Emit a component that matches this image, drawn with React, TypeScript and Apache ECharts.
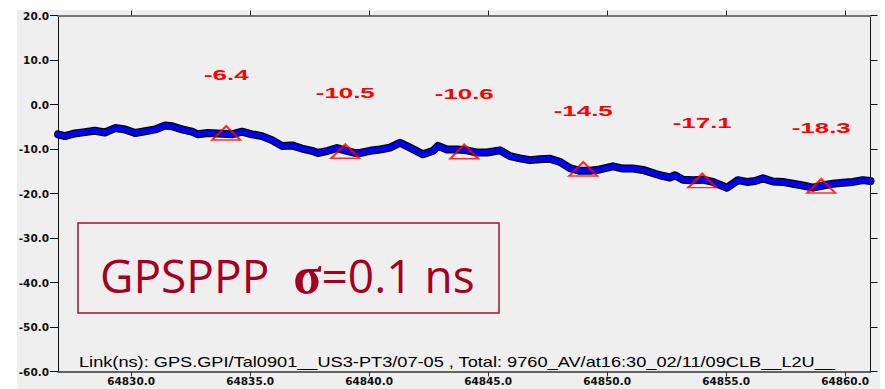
import React, { useEffect, useRef } from 'react';
import * as echarts from 'echarts';

const W = 885;
const H = 389;

// Time axis (x) and link offset values (ns)
const times = [
  64826.93, 64827.22, 64827.64, 64828.06, 64828.48, 64828.90, 64829.33, 64829.75, 64830.17, 64830.59,
  64831.01, 64831.43, 64831.72, 64832.14, 64832.56, 64832.81, 64833.23, 64833.65, 64834.24, 64834.66,
  64835.08, 64835.50, 64835.92, 64836.34, 64836.76, 64837.18, 64837.60, 64837.85, 64838.27, 64838.65,
  64838.99, 64839.41, 64839.62, 64840.04, 64840.46, 64840.88, 64841.30, 64841.72, 64842.27, 64842.69,
  64842.90, 64843.27, 64843.69, 64844.11, 64844.54, 64844.96, 64845.50, 64845.92, 64846.34, 64846.76,
  64847.18, 64847.60, 64848.02, 64848.44, 64848.86, 64849.28, 64849.70, 64850.25, 64850.67, 64851.09,
  64851.51, 64851.80, 64852.22, 64852.64, 64852.85, 64853.19, 64853.61, 64854.03, 64854.45, 64855.04,
  64855.50, 64855.88, 64856.22, 64856.55, 64856.97, 64857.39, 64857.81, 64858.23, 64858.65, 64859.07,
  64859.49, 64859.91, 64860.33, 64860.75, 64861.07,
];
const linkValues = [
  -6.7, -7.1, -6.5, -6.2, -5.9, -6.3, -5.3, -5.6, -6.4, -6.0,
  -5.6, -4.7, -4.9, -5.6, -6.1, -6.7, -6.4, -6.5, -6.7, -6.1,
  -6.7, -7.1, -8.0, -9.3, -9.2, -9.9, -10.4, -10.9, -10.4, -9.8,
  -10.3, -10.9, -10.9, -10.4, -10.1, -9.7, -8.6, -9.7, -11.2, -10.4,
  -9.3, -10.1, -10.1, -10.3, -10.8, -10.8, -10.3, -11.6, -12.1, -12.5,
  -12.3, -12.2, -12.9, -14.3, -14.9, -14.9, -14.6, -13.9, -14.4, -14.4,
  -14.7, -15.2, -15.9, -16.4, -15.9, -16.9, -17.0, -16.9, -17.4, -18.7,
  -17.0, -17.4, -17.2, -16.6, -17.3, -17.4, -17.8, -18.2, -18.7, -18.2,
  -17.8, -17.6, -17.4, -17.0, -17.2,
];

// Marked averages
const markerTimes = [64834, 64839, 64844, 64849, 64854, 64859];
const markerValues = [-6.4, -10.5, -10.6, -14.5, -17.1, -18.3];

// Axes
const xTicks = [64830, 64835, 64840, 64845, 64850, 64855, 64860];
const xMin = 64826.93;
const xMax = 64861.07;
const yMin = -60;
const yMax = 20;
const yStep = 10;

const footerText = 'Link(ns): GPS.GPI/Tal0901__US3-PT3/07-05 , Total: 9760_AV/at16:30_02/11/09CLB__L2U__';
const boxTitle = 'GPSPPP';
const boxSigma = 'σ';
const boxValue = '=0.1 ns';

export default function App() {
  const ref = useRef<HTMLDivElement>(null);

  useEffect(() => {
    if (!ref.current) return;
    const chart = echarts.init(ref.current, null, { renderer: 'svg', width: W, height: H });

    const lineData = times.map((t, i) => [t, linkValues[i]]);
    const markerData = markerTimes.map((t, i) => [t, markerValues[i]]);

    const axisFont = {
      fontFamily: 'DejaVu Sans',
      fontWeight: 'bold' as const,
      fontSize: 10.5,
      color: '#111',
    };

    const option: any = {
      animation: false,
      backgroundColor: '#efefef',
      grid: { left: 58, right: 14.5, top: 15.5, bottom: 17.5, containLabel: false },
      xAxis: [
        {
          type: 'value',
          position: 'bottom',
          min: xMin,
          max: xMax,
          axisLine: { show: true, onZero: false, lineStyle: { color: '#333', width: 1.5 } },
          axisTick: { show: true, length: 5, customValues: xTicks, lineStyle: { color: '#333' } },
          axisLabel: {
            show: true,
            customValues: xTicks,
            margin: 4,
            formatter: (v: number) => v.toFixed(1),
            ...axisFont,
          },
          splitLine: { show: false },
        },
        {
          type: 'value',
          position: 'top',
          min: xMin,
          max: xMax,
          axisLine: { show: true, onZero: false, lineStyle: { color: '#777', width: 2 } },
          axisTick: { show: true, length: 5, customValues: xTicks, lineStyle: { color: '#222' } },
          axisLabel: { show: false },
          splitLine: { show: false },
        },
      ],
      yAxis: [
        {
          type: 'value',
          position: 'left',
          min: yMin,
          max: yMax,
          interval: yStep,
          axisLine: { show: true, onZero: false, lineStyle: { color: '#111', width: 1 } },
          axisTick: { show: true, length: 8, lineStyle: { color: '#111' } },
          axisLabel: {
            show: true,
            margin: 9,
            formatter: (v: number) => v.toFixed(1),
            ...axisFont,
          },
          splitLine: { show: false },
        },
        {
          type: 'value',
          position: 'right',
          min: yMin,
          max: yMax,
          interval: yStep,
          axisLine: { show: true, onZero: false, lineStyle: { color: '#111', width: 1 } },
          axisTick: { show: true, length: 7, lineStyle: { color: '#111' } },
          axisLabel: { show: false },
          splitLine: { show: false },
        },
      ],
      series: [
        {
          type: 'line',
          data: lineData,
          showSymbol: false,
          symbol: 'none',
          lineStyle: { color: '#000', width: 8, join: 'round', cap: 'round' },
          z: 2,
        },
        {
          type: 'line',
          data: lineData,
          showSymbol: false,
          symbol: 'none',
          lineStyle: { color: '#0000f5', width: 5.5, join: 'round', cap: 'round' },
          z: 3,
        },
        {
          type: 'scatter',
          data: markerData,
          symbol: 'triangle',
          symbolSize: [28, 14],
          itemStyle: { color: 'rgba(0,0,0,0)', borderColor: '#ff0000', borderWidth: 2 },
          z: 4,
        },
        {
          type: 'custom',
          data: markerData,
          clip: false,
          z: 5,
          renderItem: (_params: any, api: any) => {
            const p = api.coord([api.value(0), api.value(1)]);
            return {
              type: 'text',
              x: p[0],
              y: p[1] - 58,
              scaleX: 1.85,
              style: {
                text: Number(api.value(1)).toFixed(1),
                fill: '#ff0000',
                fontSize: 14,
                fontWeight: 'bold',
                fontFamily: 'Liberation Sans',
                align: 'center',
                verticalAlign: 'middle',
              },
            };
          },
        },
      ],
      graphic: [
        { type: 'rect', shape: { x: 0, y: 0, width: W, height: 10 }, style: { fill: '#ffffff' }, silent: true },
        { type: 'rect', shape: { x: 0, y: 0, width: 17, height: H }, style: { fill: '#ffffff' }, silent: true },
        { type: 'rect', shape: { x: 880, y: 0, width: 5, height: H }, style: { fill: '#ffffff' }, silent: true },
        {
          type: 'rect',
          shape: { x: 78, y: 223, width: 421, height: 90 },
          style: { fill: 'none', stroke: '#a5122d', lineWidth: 1.5 },
          silent: true,
        },
        {
          type: 'text',
          x: 100,
          y: 275,
          style: {
            text: `{a|${boxTitle}  }{b|${boxSigma}}{a|${boxValue}}`,
            verticalAlign: 'middle',
            align: 'left',
            rich: {
              a: { fontSize: 46, fontFamily: 'Open Sans', fill: '#a50021', color: '#a50021' },
              b: { fontSize: 52, fontFamily: 'Liberation Serif', fontWeight: 'bold', fill: '#a50021', color: '#a50021' },
            },
          },
          silent: true,
        },
        {
          type: 'text',
          x: 79,
          y: 362,
          scaleX: 1.3,
          style: {
            text: footerText,
            fontSize: 14,
            fontFamily: 'Liberation Sans',
            fill: '#000',
            align: 'left',
            verticalAlign: 'middle',
          },
          silent: true,
        },
      ],
    };

    chart.setOption(option);
    return () => chart.dispose();
  }, []);

  return <div ref={ref} style={{ position: 'absolute', left: 0, top: 0, width: W, height: H }} />;
}
